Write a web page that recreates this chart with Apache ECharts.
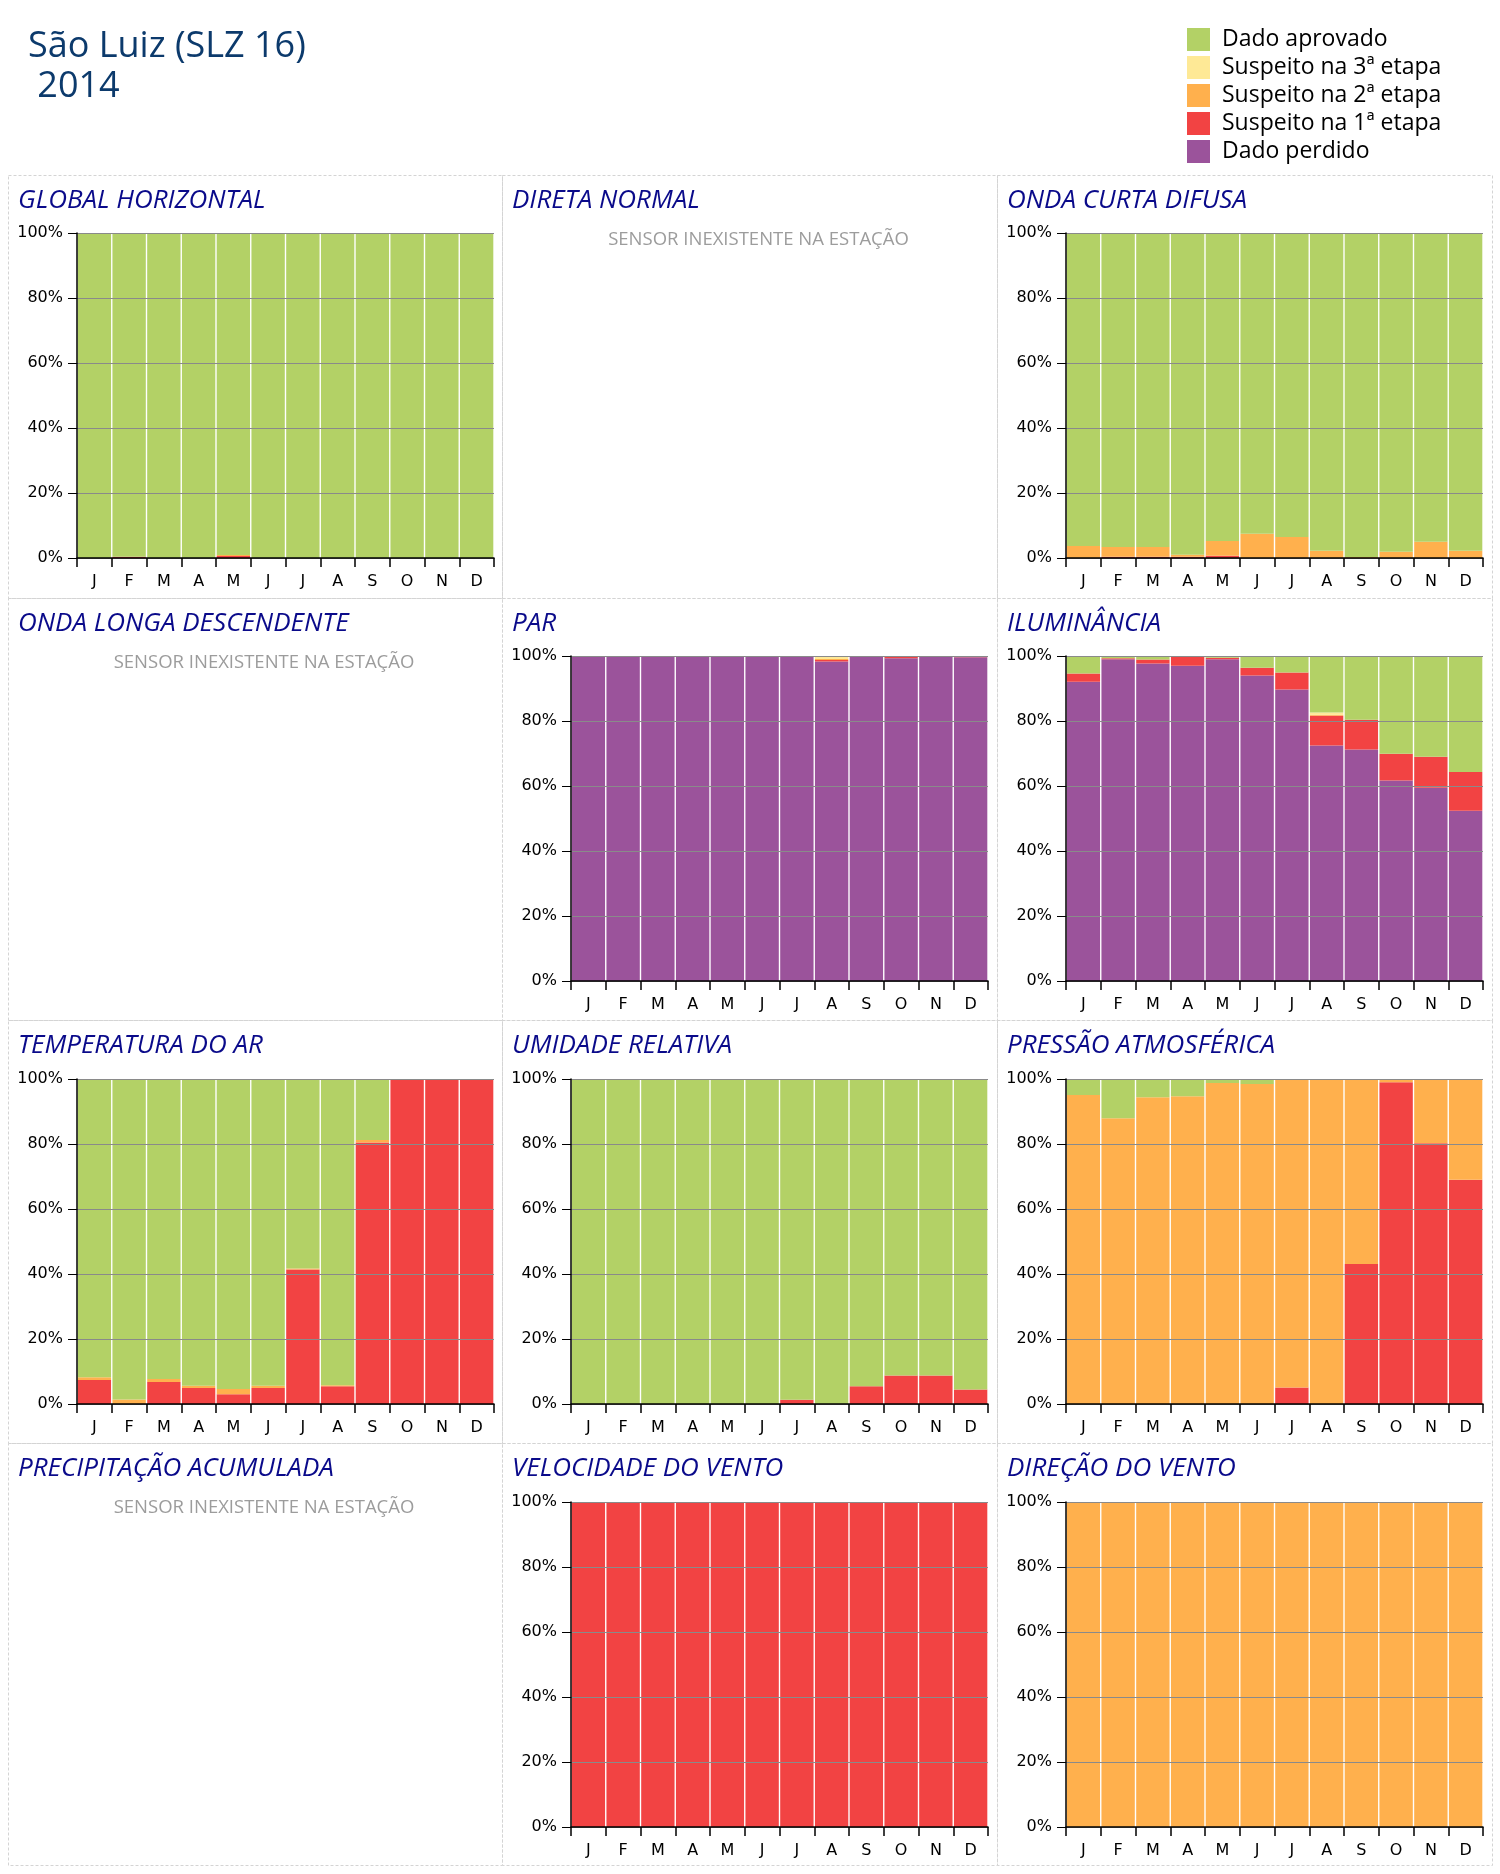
<!DOCTYPE html>
<html>
<head>
<meta charset="utf-8">
<script src="https://cdn.jsdelivr.net/npm/echarts@6/dist/echarts.min.js"></script>
<style>
html,body{margin:0;padding:0;background:#fff;}
#chart{width:1500px;height:1874px;}
</style>
</head>
<body>
<div id="chart"></div>
<script>
// ---------- DATA ----------
const months = ['J','F','M','A','M','J','J','A','S','O','N','D'];
const yTicks = [0, 20, 40, 60, 80, 100];
const stationTitle = 'São Luiz (SLZ 16)';
const yearText = ' 2014';
const noSensorText = 'SENSOR INEXISTENTE NA ESTAÇÃO';
const legendNames = ['Dado aprovado','Suspeito na 3ª etapa','Suspeito na 2ª etapa','Suspeito na 1ª etapa','Dado perdido'];

// GLOBAL HORIZONTAL
const ghPerdido  = [0,0,0,0,0,0,0,0,0,0,0,0];
const ghS1       = [0,0.4,0,0,0.6,0,0,0,0,0,0,0];
const ghS2       = [0,0,0,0,0.3,0,0,0,0,0,0,0];
const ghS3       = [0,0,0,0,0,0,0,0,0,0,0,0];
const ghAprovado = [100,99.6,100,100,99.1,100,100,100,100,100,100,100];

// ONDA CURTA DIFUSA
const ocPerdido  = [0,0,0,0,0,0,0,0,0,0,0,0];
const ocS1       = [0,0.4,0.4,0.4,0.7,0,0,0,0,0,0,0];
const ocS2       = [3.7,3.0,3.0,0.6,4.5,7.5,6.5,2.2,0.3,1.9,5.0,2.2];
const ocS3       = [0,0,0,0,0,0,0,0,0,0,0,0];
const ocAprovado = [96.3,96.6,96.6,99.0,94.8,92.5,93.5,97.8,99.7,98.1,95.0,97.8];

// PAR
const parPerdido  = [100,100,100,100,100,100,100,98.3,100,99.3,100,99.6];
const parS1       = [0,0,0,0,0,0,0,0.5,0,0.5,0,0.3];
const parS2       = [0,0,0,0,0,0,0,0.3,0,0,0,0];
const parS3       = [0,0,0,0,0,0,0,0.6,0,0,0,0];
const parAprovado = [0,0,0,0,0,0,0,0.3,0,0.2,0,0.1];

// ILUMINÂNCIA
const ilPerdido  = [92.1,99.0,97.7,97.0,99.0,94.0,89.7,72.5,71.2,61.7,59.5,52.4];
const ilS1       = [2.5,0.3,1.2,3.0,0.5,2.4,5.2,9.1,9.2,8.2,9.5,11.9];
const ilS2       = [0,0,0,0,0,0,0,0.3,0,0,0,0];
const ilS3       = [0,0,0,0,0,0,0,0.7,0,0,0,0];
const ilAprovado = [5.4,0.7,1.1,0,0.5,3.6,5.1,17.4,19.6,30.1,31.0,35.7];

// TEMPERATURA DO AR
const taPerdido  = [0,0,0,0,0,0,0,0,0,0,0,0];
const taS1       = [7.4,0,6.8,4.9,3.0,4.9,41.4,5.5,80.5,100,100,100];
const taS2       = [0.8,1.4,0.9,0.7,1.6,0.7,0.3,0.3,0.7,0,0,0];
const taS3       = [0,0,0,0,0,0,0,0,0,0,0,0];
const taAprovado = [91.8,98.6,92.3,94.4,95.4,94.4,58.3,94.2,18.8,0,0,0];

// UMIDADE RELATIVA
const urPerdido  = [0,0,0,0,0,0,0,0,0,0,0,0];
const urS1       = [0,0,0,0,0,0,1.3,0,5.5,8.8,8.8,4.5];
const urS2       = [0,0,0,0,0,0,0,0,0,0,0,0];
const urS3       = [0,0,0,0,0,0,0,0,0,0,0,0];
const urAprovado = [100,100,100,100,100,100,98.7,100,94.5,91.2,91.2,95.5];

// PRESSÃO ATMOSFÉRICA
const paPerdido  = [0,0,0,0,0,0,0,0,0,0,0,0];
const paS1       = [0,0,0,0,0,0,5.1,0,43.1,99.0,80.2,69.0];
const paS2       = [95.1,87.9,94.4,94.7,98.8,98.5,94.9,100,56.9,1.0,19.8,31.0];
const paS3       = [0,0,0,0,0,0,0,0,0,0,0,0];
const paAprovado = [4.9,12.1,5.6,5.3,1.2,1.5,0,0,0,0,0,0];

// VELOCIDADE DO VENTO
const vvPerdido  = [0,0,0,0,0,0,0,0,0,0,0,0];
const vvS1       = [100,100,100,100,100,100,100,100,100,100,100,100];
const vvS2       = [0,0,0,0,0,0,0,0,0,0,0,0];
const vvS3       = [0,0,0,0,0,0,0,0,0,0,0,0];
const vvAprovado = [0,0,0,0,0,0,0,0,0,0,0,0];

// DIREÇÃO DO VENTO
const dvPerdido  = [0,0,0,0,0,0,0,0,0,0,0,0];
const dvS1       = [0,0,0,0,0,0,0,0,0,0,0,0];
const dvS2       = [100,100,100,100,100,100,100,100,100,100,100,100];
const dvS3       = [0,0,0,0,0,0,0,0,0,0,0,0];
const dvAprovado = [0,0,0,0,0,0,0,0,0,0,0,0];

// ---------- LAYOUT / STYLE ----------
const COLORS = {
  aprovado: '#b3d166',
  s3: '#fee996',
  s2: '#ffb04d',
  s1: '#f24343',
  perdido: '#9b539b'
};
const panelX = [8, 502, 997];
const panelW = [494, 495, 495];
const panelY = [175, 598, 1020, 1443];
const panelH = [423, 422, 423, 422];
const gridLeft = [77, 571, 1066];
const gridTop = [233, 656, 1079, 1502];
const gridW = 417;
const gridH = 325;

const panels = [
  {title:'GLOBAL HORIZONTAL', col:0, row:0, d:[ghPerdido,ghS1,ghS2,ghS3,ghAprovado]},
  {title:'DIRETA NORMAL', col:1, row:0, d:null},
  {title:'ONDA CURTA DIFUSA', col:2, row:0, d:[ocPerdido,ocS1,ocS2,ocS3,ocAprovado]},
  {title:'ONDA LONGA DESCENDENTE', col:0, row:1, d:null},
  {title:'PAR', col:1, row:1, d:[parPerdido,parS1,parS2,parS3,parAprovado]},
  {title:'ILUMINÂNCIA', col:2, row:1, d:[ilPerdido,ilS1,ilS2,ilS3,ilAprovado]},
  {title:'TEMPERATURA DO AR', col:0, row:2, d:[taPerdido,taS1,taS2,taS3,taAprovado]},
  {title:'UMIDADE RELATIVA', col:1, row:2, d:[urPerdido,urS1,urS2,urS3,urAprovado]},
  {title:'PRESSÃO ATMOSFÉRICA', col:2, row:2, d:[paPerdido,paS1,paS2,paS3,paAprovado]},
  {title:'PRECIPITAÇÃO ACUMULADA', col:0, row:3, d:null},
  {title:'VELOCIDADE DO VENTO', col:1, row:3, d:[vvPerdido,vvS1,vvS2,vvS3,vvAprovado]},
  {title:'DIREÇÃO DO VENTO', col:2, row:3, d:[dvPerdido,dvS1,dvS2,dvS3,dvAprovado]}
];

const seriesDefs = [
  {name: legendNames[4], color: COLORS.perdido},
  {name: legendNames[3], color: COLORS.s1},
  {name: legendNames[2], color: COLORS.s2},
  {name: legendNames[1], color: COLORS.s3},
  {name: legendNames[0], color: COLORS.aprovado}
];

const grids = [], xAxes = [], yAxes = [], series = [], graphics = [];

// header
graphics.push({type:'text', left:28, top:29, style:{text:stationTitle, font:'36px "Open Sans"', fill:'#0c3a6c'}, silent:true});
graphics.push({type:'text', left:28, top:69, style:{text:yearText, font:'36px "Open Sans"', fill:'#0c3a6c'}, silent:true});

panels.forEach(function(p){
  const px = panelX[p.col], py = panelY[p.row];
  graphics.push({type:'rect', shape:{x:px+0.5, y:py+0.5, width:panelW[p.col], height:panelH[p.row]},
    style:{fill:'none', stroke:'#d4d4d4', lineWidth:1, lineDash:[3,2]}, silent:true, z:0});
  graphics.push({type:'text', x:px+10, y:py+26, style:{text:p.title, font:'italic 26px "Open Sans"', fill:'#0a0a8a', verticalAlign:'middle'}, silent:true});
  if(!p.d){
    graphics.push({type:'text', x:px + panelW[p.col]/2 + 9, y:py+65, style:{text:noSensorText, font:'18.5px "Open Sans"', fill:'#9c9c9c', align:'center', verticalAlign:'middle'}, silent:true});
    return;
  }
  const gi = grids.length;
  grids.push({left:gridLeft[p.col], top:gridTop[p.row], width:gridW, height:gridH, containLabel:false});
  xAxes.push({
    type:'category', gridIndex:gi, data:months, boundaryGap:true,
    axisLine:{show:true, lineStyle:{color:'#000', width:1.5}},
    axisTick:{show:true, length:9, lineStyle:{color:'#000', width:1.5}},
    axisLabel:{interval:0, margin:16, fontSize:16, fontFamily:'DejaVu Sans', color:'#000'},
    splitLine:{show:false}, z:5
  });
  yAxes.push({
    type:'value', gridIndex:gi, min:0, max:100, interval:20,
    axisLine:{show:true, lineStyle:{color:'#000', width:1.5}},
    axisTick:{show:true, length:9, lineStyle:{color:'#000', width:1}},
    axisLabel:{formatter:'{value}%', margin:14, fontSize:16, fontFamily:'DejaVu Sans', color:'#000'},
    splitLine:{show:true, lineStyle:{color:'#8a8a8a', width:1}}, z:5
  });
  seriesDefs.forEach(function(sd, k){
    series.push({
      type:'bar', name:sd.name, xAxisIndex:gi, yAxisIndex:gi, stack:'s'+gi,
      data:p.d[k], barCategoryGap:'4%', itemStyle:{color:sd.color}, silent:true,
      animation:false
    });
  });
});

const chart = echarts.init(document.getElementById('chart'), null, {renderer:'canvas'});
chart.setOption({
  animation:false,
  backgroundColor:'#fff',
  legend:{
    orient:'vertical', left:1187, top:28, itemWidth:23, itemHeight:23, itemGap:5,
    icon:'rect', selectedMode:false, padding:0,
    data:legendNames,
    textStyle:{fontSize:23, fontFamily:'Open Sans', color:'#000', padding:[0,0,0,7]}
  },
  grid:grids, xAxis:xAxes, yAxis:yAxes, series:series, graphic:graphics
});
</script>
</body>
</html>
